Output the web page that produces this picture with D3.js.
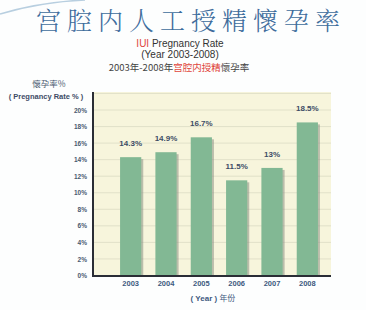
<!DOCTYPE html>
<html><head><meta charset="utf-8">
<script src="https://cdn.jsdelivr.net/npm/d3@7"></script>
<style>html,body{margin:0;padding:0;background:#fff;}svg{display:block;}</style>
</head><body>
<script>
const years = ["2003","2004","2005","2006","2007","2008"];
const rates = [14.3, 14.9, 16.7, 11.5, 13, 18.5];
const rateLabels = ["14.3%","14.9%","16.7%","11.5%","13%","18.5%"];
const yTicks = [0,2,4,6,8,10,12,14,16,18,20];

(function(){
const W = 366, H = 310;
const svg = d3.select("body").append("svg").attr("width", W).attr("height", H);

svg.append("rect").attr("width", W).attr("height", H).attr("fill", "#fdfefe");
svg.append("path").attr("d", "M0,14 Q40,2 85,0").attr("fill","none").attr("stroke","#b8cfe0").attr("stroke-width",1.5);

svg.append("text").attr("x", 191).attr("y", 29.5).attr("text-anchor","middle")
  .attr("font-family","'Noto Serif CJK SC','Noto Sans CJK SC',sans-serif").attr("font-weight",300)
  .attr("font-size", 25).attr("fill","#3d6c9c").attr("letter-spacing", 6).text("宫腔内人工授精懷孕率");

const sub = svg.append("g").attr("font-family","'Liberation Sans',Arial,sans-serif").attr("fill","#333");
const t1 = sub.append("text").attr("x",180).attr("y",46.5).attr("text-anchor","middle").attr("font-size",10);
t1.append("tspan").attr("fill","#e0463c").text("IUI");
t1.append("tspan").attr("fill","#333").text(" Pregnancy Rate");
sub.append("text").attr("x",180).attr("y",58).attr("text-anchor","middle").attr("font-size",10).attr("fill","#333").text("(Year 2003-2008)");
const t3 = sub.append("text").attr("x",179).attr("y",71).attr("text-anchor","middle").attr("font-size",9.5)
  .attr("font-family","'Noto Sans CJK SC',sans-serif");
t3.append("tspan").attr("fill","#444").text("2003年-2008年");
t3.append("tspan").attr("fill","#e0463c").text("宫腔内授精");
t3.append("tspan").attr("fill","#444").text("懷孕率");

svg.append("text").attr("x",49).attr("y",87).attr("text-anchor","middle")
  .attr("font-family","'Noto Sans CJK SC',sans-serif").attr("font-size",8.5).attr("fill","#4a5a70").text("懷孕率%");
svg.append("text").attr("x",46).attr("y",99).attr("text-anchor","middle")
  .attr("font-family","'Liberation Sans',Arial,sans-serif").attr("font-weight","bold").attr("font-size",7.5).attr("fill","#3d4c66").text("( Pregnancy Rate % )");

const pL = 93, pR = 331, pT = 92, pB = 276;
const y = d3.scaleLinear().domain([0,20]).range([275.5,110]);
const x = d3.scaleBand().domain(years).range([113,325]).paddingInner(0.4).paddingOuter(0.2);

svg.append("rect").attr("x",pL).attr("y",pT).attr("width",pR-pL).attr("height",pB-pT).attr("fill","#f7f5dc");

svg.append("g").selectAll("line").data(yTicks.filter(d=>d>0).concat([22])).join("line")
  .attr("x1",pL).attr("x2",pR).attr("y1",d=>y(d)).attr("y2",d=>y(d))
  .attr("stroke","#dcdcc4").attr("stroke-width",0.8);

const ya = svg.append("g").attr("transform",`translate(${pL-6},0)`)
  .call(d3.axisLeft(y).tickValues(yTicks).tickFormat(d=>d+"%").tickSize(0).tickPadding(0));
ya.select(".domain").remove();
ya.selectAll("text").attr("font-family","'Liberation Sans',Arial,sans-serif").attr("font-weight","bold")
  .attr("font-size",6.5).attr("fill","#4a5a70");

svg.append("g").selectAll("rect").data(years).join("rect")
  .attr("x",d=>x(d)+2).attr("y",(d,i)=>y(rates[i])+2).attr("width",x.bandwidth())
  .attr("height",(d,i)=>y(0)-y(rates[i])-2).attr("fill","#8a8f84").attr("opacity",0.55);
svg.append("g").selectAll("rect").data(years).join("rect")
  .attr("x",d=>x(d)).attr("y",(d,i)=>y(rates[i])).attr("width",x.bandwidth())
  .attr("height",(d,i)=>y(0)-y(rates[i])).attr("fill","#82b894");
svg.append("g").selectAll("text").data(years).join("text")
  .attr("x",d=>x(d)+x.bandwidth()/2).attr("y",(d,i)=>y(rates[i])-11).attr("text-anchor","middle")
  .attr("font-family","'Liberation Sans',Arial,sans-serif").attr("font-weight","bold").attr("font-size",8)
  .attr("fill","#3d4c66").text((d,i)=>rateLabels[i]);

svg.append("line").attr("x1",pL).attr("x2",pL).attr("y1",pT).attr("y2",pB+1).attr("stroke","#2a2d35").attr("stroke-width",2);
svg.append("line").attr("x1",pL-1).attr("x2",pR).attr("y1",pB).attr("y2",pB).attr("stroke","#2a2d35").attr("stroke-width",2);

const xa = svg.append("g").attr("transform",`translate(0,${pB+3})`)
  .call(d3.axisBottom(x).tickSize(0).tickPadding(0));
xa.select(".domain").remove();
xa.selectAll("text").attr("font-family","'Liberation Sans',Arial,sans-serif").attr("font-weight","bold")
  .attr("font-size",7.5).attr("fill","#3d5a80").attr("dy","0.9em");

const xt = svg.append("text").attr("x",213).attr("y",301).attr("text-anchor","middle").attr("font-size",8);
xt.append("tspan").attr("font-family","'Liberation Sans',Arial,sans-serif").attr("font-weight","bold").attr("fill","#3d5a80").text("( Year )  ");
xt.append("tspan").attr("font-family","'Noto Sans CJK SC',sans-serif").attr("fill","#3d5a80").text("年份");
})();
</script>
</body></html>
